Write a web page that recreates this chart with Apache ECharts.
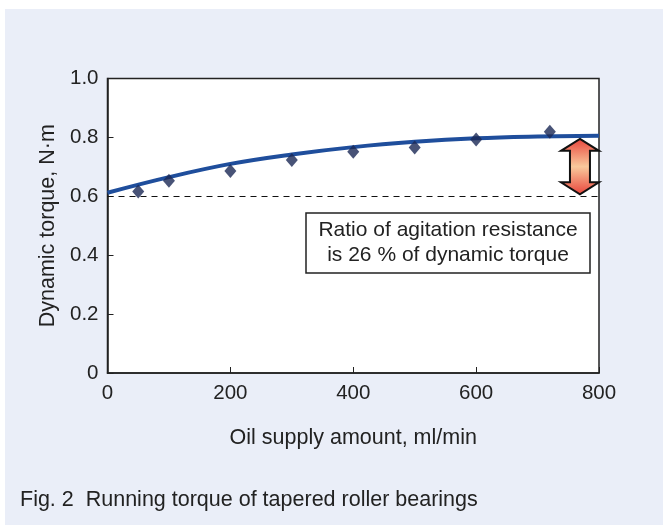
<!DOCTYPE html>
<html>
<head>
  <meta charset="UTF-8">
  <script src="https://cdn.jsdelivr.net/npm/echarts@6.0.0/dist/echarts.min.js"></script>
  <style>
    body { margin: 0; padding: 0; background: #ffffff; }
    #chart { width: 668px; height: 529px; }
  </style>
</head>
<body>
  <div id="chart"></div>
  <script>
    // measured torque, diamonds
    const measuredX = [50, 100, 200, 300, 400, 500, 600, 720];
    const measuredY = [0.616, 0.653, 0.686, 0.723, 0.751, 0.766, 0.793, 0.819];

    // fitted curve
    const curveX = [0, 100, 200, 300, 400, 500, 600, 700, 800];
    const curveY = [0.612, 0.665, 0.71, 0.742, 0.767, 0.785, 0.797, 0.803, 0.806];

    // dashed baseline and the arrow span (x, from, to)
    const baseline = 0.6;
    const arrowSpan = [769, 0.607, 0.795];

    const font = "'Liberation Sans', Arial, Helvetica, sans-serif";
    const ink = '#222222';

    const chart = echarts.init(document.getElementById('chart'));

    function renderArrow(params, api) {
      const top = api.coord([api.value(0), api.value(2)]);
      const bot = api.coord([api.value(0), api.value(1)]);
      const cx = top[0], t = top[1], b = bot[1];
      const hw = 19, sw = 10, hl = 12;
      return {
        type: 'polygon',
        shape: {
          points: [
            [cx, t], [cx + hw, t + hl], [cx + sw, t + hl], [cx + sw, b - hl],
            [cx + hw, b - hl], [cx, b], [cx - hw, b - hl], [cx - sw, b - hl],
            [cx - sw, t + hl], [cx - hw, t + hl]
          ]
        },
        style: {
          fill: new echarts.graphic.LinearGradient(0, 0, 0, 1, [
            { offset: 0, color: '#e8423a' },
            { offset: 0.5, color: '#f9c99c' },
            { offset: 1, color: '#e8423a' }
          ]),
          stroke: '#111111',
          lineWidth: 2
        }
      };
    }

    const option = {
      animation: false,
      textStyle: { fontFamily: font },
      graphic: [
        {
          type: 'rect', z: -10, silent: true,
          shape: { x: 5, y: 9, width: 658, height: 516 },
          style: { fill: '#eaeef8' }
        },
        {
          type: 'rect', z: 10,
          shape: { x: 306, y: 213, width: 284, height: 60 },
          style: { fill: '#ffffff', stroke: ink, lineWidth: 1.5 }
        },
        {
          type: 'text', z: 11,
          x: 448, y: 243,
          style: {
            text: 'Ratio of agitation resistance\nis 26 % of dynamic torque',
            font: '21px ' + font,
            fill: ink,
            align: 'center',
            verticalAlign: 'middle',
            lineHeight: 25
          }
        },
        {
          type: 'text',
          x: 20, y: 500,
          style: {
            text: 'Fig. 2  Running torque of tapered roller bearings',
            font: '21.5px ' + font,
            fill: ink,
            verticalAlign: 'middle'
          }
        }
      ],
      grid: {
        left: 107.5,
        right: 69,
        top: 78.5,
        bottom: 156,
        show: true,
        backgroundColor: '#ffffff',
        borderColor: ink,
        borderWidth: 1.5
      },
      xAxis: {
        type: 'value',
        min: 0,
        max: 800,
        interval: 200,
        name: 'Oil supply amount, ml/min',
        nameLocation: 'middle',
        nameGap: 54,
        nameTextStyle: { fontSize: 21.5, color: ink },
        axisLine: { show: true, lineStyle: { color: ink, width: 1.5 } },
        axisTick: { show: true, inside: true, length: 6, lineStyle: { color: ink } },
        axisLabel: { fontSize: 20.5, color: ink, margin: 10 },
        splitLine: { show: false }
      },
      yAxis: {
        type: 'value',
        min: 0,
        max: 1,
        interval: 0.2,
        name: 'Dynamic torque, N·m',
        nameLocation: 'middle',
        nameGap: 45,
        nameTextStyle: { fontSize: 21.5, color: ink },
        axisLine: { show: true, lineStyle: { color: ink, width: 1.5 } },
        axisTick: { show: true, inside: true, length: 6, lineStyle: { color: ink } },
        axisLabel: {
          fontSize: 20.5, color: ink, margin: 9,
          formatter: v => (v === 0 ? '0' : v.toFixed(1))
        },
        splitLine: { show: false }
      },
      series: [
        {
          name: 'fit',
          type: 'line',
          data: curveX.map((x, i) => [x, curveY[i]]),
          smooth: 0.4,
          showSymbol: false,
          lineStyle: { color: '#1f4e9c', width: 4 },
          z: 3,
          markLine: {
            silent: true,
            symbol: 'none',
            label: { show: false },
            lineStyle: { color: '#111111', type: [6, 5], width: 1 },
            data: [{ yAxis: baseline }]
          }
        },
        {
          name: 'measured',
          type: 'scatter',
          data: measuredX.map((x, i) => [x, measuredY[i]]),
          symbol: 'diamond',
          symbolSize: [12, 14],
          itemStyle: { color: '#1a2855' },
          z: 4
        },
        {
          name: 'arrow',
          type: 'custom',
          renderItem: renderArrow,
          data: [arrowSpan],
          clip: false,
          z: 5
        }
      ]
    };

    chart.setOption(option);
  </script>
</body>
</html>
